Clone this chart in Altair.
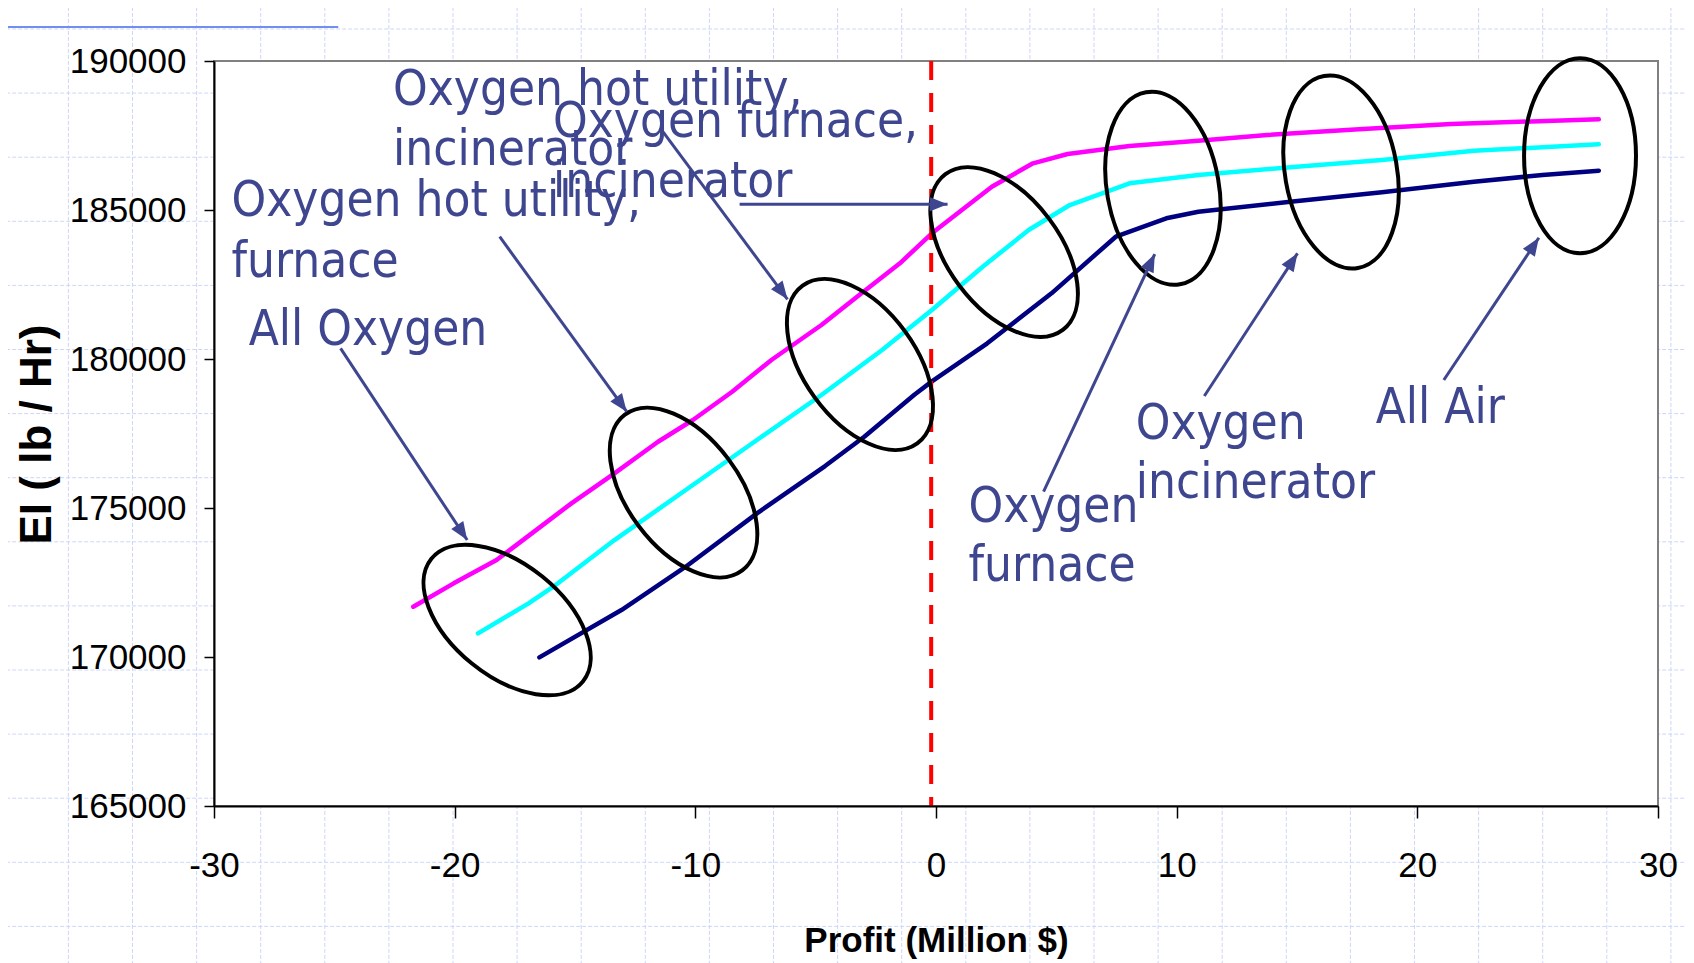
import altair as alt
import pandas as pd

# ---------------- data ----------------
magenta_x = [-21.72, -20.04, -18.26, -17.07, -15.15, -13.36, -11.55, -10.1, -8.47, -6.84,
             -4.76, -3.28, -1.5, -0.17, 2.32, 4.03, 5.47, 8.04, 10.9, 13.76, 17.57, 21.4, 27.54]
magenta_y = [171686, 172472, 173254, 173982, 175156, 176163, 177224, 177952, 178902, 179966,
             181140, 182090, 183211, 184217, 185782, 186567, 186879, 187147, 187325, 187517,
             187708, 187886, 188043]

cyan_x = [-19.03, -16.93, -15.9, -13.36, -10.4, -7.44, -4.76, -2.24, -0.17, 1.94, 3.85,
          5.56, 8.04, 10.9, 14.72, 18.53, 22.35, 27.54]
cyan_y = [170794, 171800, 172358, 173925, 175603, 177281, 178791, 180301, 181644, 183097,
          184328, 185167, 185895, 186174, 186432, 186678, 186990, 187204]

navy_x = [-16.48, -13.07, -10.4, -7.44, -4.61, -2.98, -0.9, -0.17, 2.13, 4.8, 7.47, 9.57,
          10.9, 14.72, 18.53, 22.35, 25.2, 27.54]
navy_y = [169988, 171576, 173030, 174821, 176408, 177392, 178800, 179250, 180526, 182204,
          184104, 184721, 184943, 185278, 185594, 185949, 186174, 186319]

series_names = ["magenta", "cyan", "navy"]
series_colors = ["#FF00FF", "#00FFFF", "#000080"]

ref_x = [-0.2]  # dashed vertical reference line

# annotation ellipses (centre in data units, tilt in degrees)
ellipse_x = [-17.82, -10.49, -3.16, 2.83, 9.43, 16.83, 26.76]
ellipse_y = [171240, 175519, 179815, 183590, 185728, 186275, 186819]
ellipse_tilt = [39, 53, 54, 53, 80, 80, 90]

# annotation arrows (start -> tip, data units), direction in degrees
arrow_x0 = [-24.74, -18.13, -11.45, -8.16, 4.47, 11.15, 21.1]
arrow_y0 = [180358, 184104, 187741, 185191, 175546, 178757, 179294]
arrow_x1 = [-19.48, -12.85, -6.17, 0.48, 9.09, 15.02, 25.05]
arrow_y1 = [173925, 178231, 182003, 185191, 183523, 183546, 184070]
arrow_dir = [146.6, 144.0, 143.4, 90.0, 25.1, 33.2, 33.7]

# annotation texts
label_text = ["Oxygen hot utility,", "incinerator", "Oxygen furnace,", "incinerator",
              "Oxygen hot utility,", "furnace", "All Oxygen", "Oxygen", "furnace",
              "Oxygen", "incinerator", "All Air"]
label_x = [-22.56, -22.56, -15.91, -15.91, -29.27, -29.27, -28.56, 1.35, 1.35, 8.3, 8.3, 18.27]
label_y = [188523, 186510, 187439, 185446, 184798, 182761, 180469, 174519, 172559,
           177304, 175324, 177861]

x_ticks = [-30, -20, -10, 0, 10, 20, 30]
y_ticks = [165000, 170000, 175000, 180000, 185000, 190000]

# slide background grid (slide grid units)
grid_cols = list(range(27))
grid_rows = list(range(15))

# ---------------- styling ----------------
TXT = "#3F4690"
SANS = "Liberation Sans"
ANN_FONT = "'DejaVu Sans Condensed', 'DejaVu Sans', sans-serif"
W, H = 1444, 745

xs = alt.Scale(domain=[-30, 30], nice=False, zero=False)
ys = alt.Scale(domain=[165000, 190000], nice=False, zero=False)

x_axis = alt.Axis(values=x_ticks, labelExpr="'' + datum.value", title="Profit (Million $)",
                  labelFont=SANS, labelFontSize=35, labelColor="black",
                  tickColor="black", tickSize=12, tickWidth=1.5,
                  domainColor="black", domainWidth=2, labelPadding=30, grid=False,
                  labelFlush=False, labelOverlap=False,
                  titleFont=SANS, titleFontWeight="bold", titleFontSize=35,
                  titleColor="black", titleX=W / 2, titleY=145,
                  titleBaseline="alphabetic", titleAlign="center", zindex=1)
y_axis = alt.Axis(values=y_ticks, labelExpr="'' + datum.value", title="EI ( lb / Hr)",
                  labelFont=SANS, labelFontSize=35, labelColor="black",
                  tickColor="black", tickSize=10, tickWidth=1.5,
                  domainColor="black", domainWidth=2, labelPadding=18, grid=False,
                  labelFlush=False, labelOverlap=False,
                  titleFont=SANS, titleFontWeight="bold", titleFontSize=44,
                  titleColor="black", titleX=-164, titleY=373, titleAngle=270,
                  titleBaseline="alphabetic", titleAlign="center", zindex=1)


def X(f="x"):
    return alt.X(f"{f}:Q", scale=xs, axis=x_axis)


def Y(f="y"):
    return alt.Y(f"{f}:Q", scale=ys, axis=y_axis)


# ---------------- tables ----------------
curves = pd.concat([
    pd.DataFrame({"x": magenta_x, "y": magenta_y, "series": "magenta"}),
    pd.DataFrame({"x": cyan_x, "y": cyan_y, "series": "cyan"}),
    pd.DataFrame({"x": navy_x, "y": navy_y, "series": "navy"}),
], ignore_index=True)
ellipses = pd.DataFrame({"x": ellipse_x, "y": ellipse_y, "tilt": ellipse_tilt})
arrows = pd.DataFrame({"x": arrow_x0, "y": arrow_y0, "x2": arrow_x1, "y2": arrow_y1})
heads = pd.DataFrame({"x": arrow_x1, "y": arrow_y1, "dir": arrow_dir})
labels = pd.DataFrame({"x": label_x, "y": label_y, "text": label_text})
frame = pd.DataFrame({"x": [x_ticks[0]], "x2": [x_ticks[-1]],
                      "y": [y_ticks[0]], "y2": [y_ticks[-1]]})
refline = pd.DataFrame({"x": ref_x, "y": [y_ticks[-1]], "y2": [y_ticks[0]]})

# ---------------- slide background ----------------
gxs = alt.Scale(domain=[0, 26], range=[-209.7, -209.7 + 26 * 64.1], nice=False, zero=False)
gys = alt.Scale(domain=[0, 14], range=[-32, -32 + 14 * 64.1], nice=False, zero=False)
GRID_COL = "#CDD6F6"

vgrid = alt.Chart(pd.DataFrame({"gx": grid_cols})).mark_rule(
    color=GRID_COL, strokeWidth=1, strokeDash=[4, 2]).encode(
    x=alt.X("gx:Q", scale=gxs, axis=None),
    y=alt.YDatum(-1, scale=gys, axis=None),
    y2=alt.Y2Datum(15))
hgrid = alt.Chart(pd.DataFrame({"gy": grid_rows})).mark_rule(
    color=GRID_COL, strokeWidth=1, strokeDash=[4, 2]).encode(
    y=alt.Y("gy:Q", scale=gys, axis=None),
    x=alt.XDatum(-1, scale=gxs, axis=None),
    x2=alt.X2Datum(28))
deco = alt.Chart(pd.DataFrame({"gx": [-0.07], "gx2": [5.21], "gy": [-0.03]})).mark_rule(
    color="#6F8FF2", strokeWidth=2).encode(
    x=alt.X("gx:Q", scale=gxs, axis=None), x2="gx2:Q",
    y=alt.Y("gy:Q", scale=gys, axis=None))
background = alt.layer(vgrid, hgrid, deco)

# ---------------- chart layers ----------------
plot_bg = alt.Chart(frame).mark_rect(fill="white", stroke="#808080", strokeWidth=2).encode(
    x=X(), x2="x2:Q", y=Y(), y2="y2:Q")

lines = alt.Chart(curves).mark_line(strokeWidth=4.5, strokeCap="round",
                                    strokeJoin="round").encode(
    x=X(), y=Y(),
    color=alt.Color("series:N", scale=alt.Scale(domain=series_names, range=series_colors),
                    legend=None),
    detail="series:N")

red = alt.Chart(refline).mark_rule(color="#FF0000", strokeWidth=4,
                                   strokeDash=[19, 13]).encode(
    x=X(), y=Y(), y2="y2:Q")

ELLIPSE = ("M 1 0 C 1 0.317 0.5523 0.574 0 0.574 C -0.5523 0.574 -1 0.317 -1 0 "
           "C -1 -0.317 -0.5523 -0.574 0 -0.574 C 0.5523 -0.574 1 -0.317 1 0 Z")
rings = alt.Chart(ellipses).mark_point(shape=ELLIPSE, filled=False, color="black",
                                       strokeWidth=4, size=38025, opacity=1).encode(
    x=X(), y=Y(), angle=alt.Angle("tilt:Q", scale=None))

shafts = alt.Chart(arrows).mark_rule(color=TXT, strokeWidth=3).encode(
    x=X(), y=Y(), x2="x2:Q", y2="y2:Q")

HEAD = "M 0 0 L 0.4 1 L -0.4 1 Z"
tips = alt.Chart(heads).mark_point(shape=HEAD, filled=True, color=TXT, size=1296,
                                   opacity=1, strokeWidth=0).encode(
    x=X(), y=Y(), angle=alt.Angle("dir:Q", scale=None))

texts = alt.Chart(labels).mark_text(align="left", baseline="alphabetic", font=ANN_FONT,
                                    fontSize=49, color=TXT).encode(
    x=X(), y=Y(), text="text:N")

main = alt.layer(plot_bg, lines, red, rings, shafts, tips, texts)

chart = alt.layer(background, main).resolve_scale(
    x="independent", y="independent").properties(
    width=W, height=H,
    padding={"left": 206, "top": 53, "right": 28, "bottom": 157},
    autosize=alt.AutoSizeParams(type="none"),
    background="white").configure_view(stroke=None)

chart.save("out.html", embed_options={"renderer": "svg", "actions": False})
